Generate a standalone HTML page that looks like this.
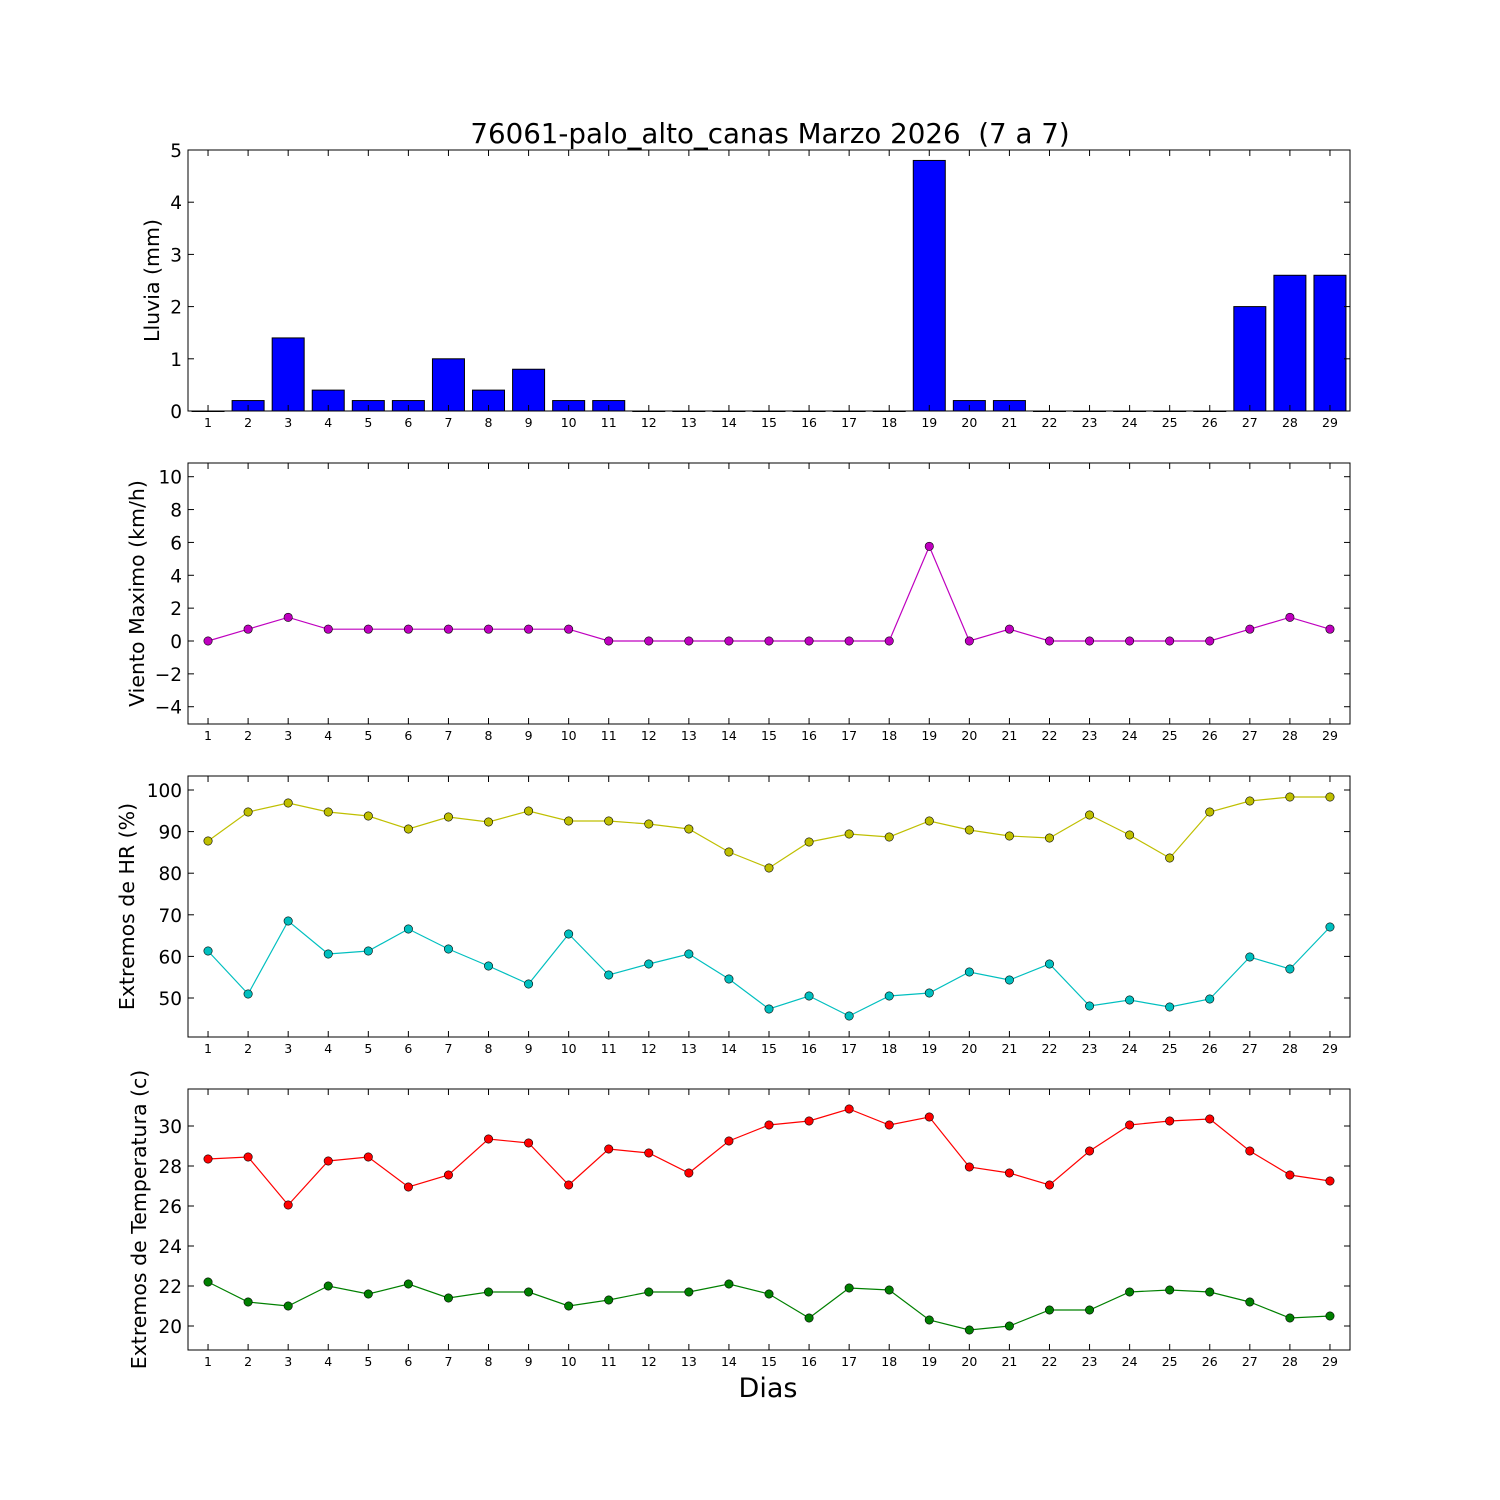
<!DOCTYPE html>
<html><head><meta charset="utf-8"><style>body{margin:0;background:#fff}svg{display:block}text{font-family:"DejaVu Sans","Liberation Sans",sans-serif}</style></head>
<body><svg id="s" width="1500" height="1500" xmlns="http://www.w3.org/2000/svg"></svg>
<script>
const s=document.getElementById('s');let h='';
const L=188,R=1350,X=d=>188+(d-0.5)*(1162/29);
const panels=[[150,411],[463,724],[776,1037],[1089,1350]];
h+='<rect width="1500" height="1500" fill="#fff"/>';
const rain=[0,0.2,1.4,0.4,0.2,0.2,1.0,0.4,0.8,0.2,0.2,0,0,0,0,0,0,0,4.8,0.2,0.2,0,0,0,0,0,2.0,2.6,2.6];
rain.forEach((v,i)=>{const x=X(i+1)-16,hh=v*52.2;h+=`<rect x="${x}" y="${411-hh}" width="32" height="${Math.max(hh,0.5)}" fill="#0000ff" stroke="#000" stroke-width="1"/>`;});
function line(ys,col){let p=ys.map((y,i)=>X(i+1).toFixed(1)+','+y).join(' ');h+=`<polyline points="${p}" fill="none" stroke="${col}" stroke-width="1.2"/>`;ys.forEach((y,i)=>h+=`<circle cx="${X(i+1)}" cy="${y}" r="4.2" fill="${col}" stroke="#000" stroke-width="0.6"/>`);}
const wind=[0,.72,1.44,.72,.72,.72,.72,.72,.72,.72,0,0,0,0,0,0,0,0,5.76,0,.72,0,0,0,0,0,.72,1.44,.72];
line(wind.map(v=>641-v*16.43),'#bf00bf');
line([841,812,803,812,816,829,817,822,811,821,821,824,829,852,868,842,834,837,821,830,836,838,815,835,858,812,801,797,797],'#bfbf00');
line([951,994,921,954,951,929,949,966,984,934,975,964,954,979,1009,996,1016,996,993,972,980,964,1006,1000,1007,999,957,969,927],'#00bfbf');
line([1159,1157,1205,1161,1157,1187,1175,1139,1143,1185,1149,1153,1173,1141,1125,1121,1109,1125,1117,1167,1173,1185,1151,1125,1121,1119,1151,1175,1181],'#ff0000');
line([1282,1302,1306,1286,1294,1284,1298,1292,1292,1306,1300,1292,1292,1284,1294,1318,1288,1290,1320,1330,1326,1310,1310,1292,1290,1292,1302,1318,1316],'#008000');
const yt=[
 [0,1,2,3,4,5].map(v=>[v,411-v*52.2]),
 [-4,-2,0,2,4,6,8,10].map(v=>[v,641-v*16.43]),
 [50,60,70,80,90,100].map(v=>[v,998-(v-50)*4.16]),
 [20,22,24,26,28,30].map(v=>[v,1326-(v-20)*20])];
const labels=['Lluvia (mm)','Viento Maximo (km/h)','Extremos de HR (%)','Extremos de Temperatura (c)'];
panels.forEach(([t,b],k)=>{
 h+=`<rect x="${L}" y="${t}" width="${R-L}" height="${b-t}" fill="none" stroke="#000" stroke-width="1"/>`;
 for(let d=1;d<=29;d++){const x=X(d);h+=`<line x1="${x}" y1="${b}" x2="${x}" y2="${b-6}" stroke="#000"/><line x1="${x}" y1="${t}" x2="${x}" y2="${t+6}" stroke="#000"/><text x="${x}" y="${b+16}" font-size="12.5" text-anchor="middle">${d}</text>`;}
 yt[k].forEach(([v,y])=>{h+=`<line x1="${L}" y1="${y}" x2="${L+6}" y2="${y}" stroke="#000"/><line x1="${R}" y1="${y}" x2="${R-6}" y2="${y}" stroke="#000"/><text x="${L-6}" y="${y+7}" font-size="18.5" text-anchor="end">${v<0?'−'+(-v):v}</text>`;});
 const cy=(t+b)/2,lx=k==0?159:k==1?144:k==2?134:146;
 h+=`<text transform="translate(${lx},${cy}) rotate(-90)" font-size="20.5" text-anchor="middle">${labels[k]}</text>`;
});
h+=`<text x="770" y="143" font-size="27.7" text-anchor="middle">76061-palo_alto_canas Marzo 2026&#160; (7 a 7)</text>`;
h+=`<text x="768" y="1397" font-size="27" text-anchor="middle">Dias</text>`;
s.innerHTML=h;
</script></body></html>
